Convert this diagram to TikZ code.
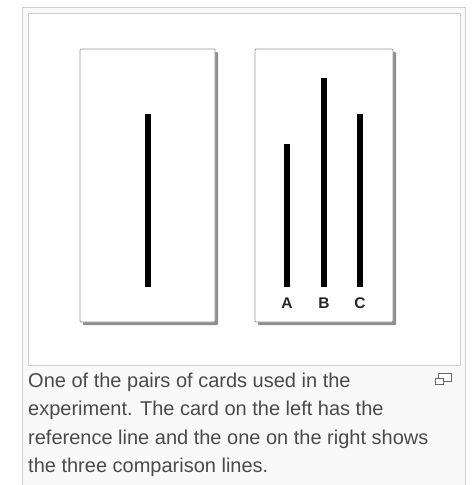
\documentclass[tikz,border=0pt]{standalone}
\usepackage{fontspec}
\setmainfont{Liberation Sans}
\usetikzlibrary{positioning,calc}
\definecolor{framegray}{HTML}{CFCFCF}
\definecolor{captionbg}{HTML}{F9F9F9}
\definecolor{captiontext}{HTML}{4A4A4A}
\definecolor{cardedge}{HTML}{9A9A9A}
\definecolor{cardshade}{HTML}{8F8F8F}
\tikzset{
  thumbframe/.style={draw=framegray, line width=1pt},
  cardbox/.style={draw=cardedge, fill=white, rounded corners=1pt, line width=0.8pt,
    minimum height=273pt, inner sep=0pt},
  cardshadow/.style={fill=cardshade, rounded corners=1pt},
  cardline/.style={line width=6.5pt, black},
  barlabel/.style={font=\bfseries\fontsize{15.5}{15.5}\selectfont, inner sep=0pt, text=black!85},
  captionline/.style={font=\fontsize{20}{20}\selectfont, text=captiontext, anchor=base west, inner sep=0pt},
  cliprect/.style={draw=black!60, line width=1pt, fill=white},
}

\begin{document}
\begin{tikzpicture}[x=1pt, y=-1pt]
  \useasboundingbox (0,0) rectangle (472,485);

  % Thumbnail frame
  \fill[white] (0,0) rectangle (472,485);
  \fill[captionbg] (22.5,7.5) rectangle (464.5,486);
  \draw[thumbframe] (22,486) -- (22,7) -- (465,7) -- (465,486);
  \draw[thumbframe, fill=white] (28,13) rectangle (460,365);

  % Card shadows
  \fill[cardshadow] (83,52) rectangle (218,325);
  \fill[cardshadow] (258,52) rectangle (396,325);

  % Cards
  \node[cardbox, minimum width=135pt] (leftcard) at (147.5,185.5) {};
  \node[cardbox, minimum width=138pt] (rightcard) at (324,185.5) {};

  % Reference line
  \coordinate (reftop) at (148,114);
  \coordinate (refbot) at (148,287);
  \draw[cardline] (reftop) -- (refbot);

  % Comparison lines
  \foreach \name/\x/\top in {A/287/144, B/324/78, C/360/114} {
    \coordinate (\name top) at (\x,\top);
    \coordinate (\name bot) at (\x,287);
    \draw[cardline] (\name top) -- (\name bot);
    \node[barlabel] (lab\name) at (\x,303.5) {\name};
  }

  % Enlarge icon
  \draw[cliprect] (438,373) rectangle (451,381);
  \draw[cliprect] (435,378) rectangle (443,384);

  % Caption
  \node[captionline] (cap1) at (28,387) {One of the pairs of cards used in the};
  \node[captionline] (cap2) at (28,415.5) {experiment. The card on the left has the};
  \node[captionline] (cap3) at (28,444) {reference line and the one on the right shows};
  \node[captionline] (cap4) at (28,472.5) {the three comparison lines.};
\end{tikzpicture}
\end{document}
